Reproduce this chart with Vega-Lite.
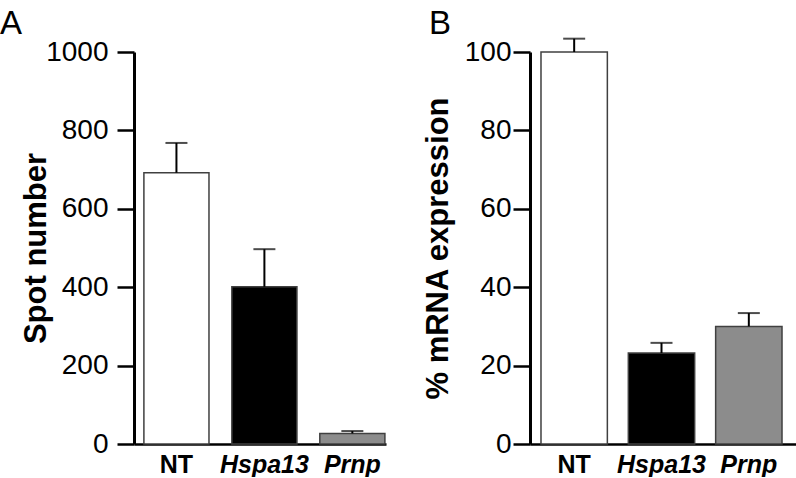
{
  "$schema": "https://vega.github.io/schema/vega-lite/v6.json",
  "background": "white",
  "padding": {"top": 7, "left": 0, "right": 0, "bottom": 0},
  "spacing": 36,
  "datasets": {
    "spots": [
      {"group": "NT", "value": 692, "upper": 768},
      {"group": "Hspa13", "value": 401, "upper": 497},
      {"group": "Prnp", "value": 27, "upper": 33}
    ],
    "mrna": [
      {"group": "NT", "value": 100, "upper": 103.4},
      {"group": "Hspa13", "value": 23.2, "upper": 25.8},
      {"group": "Prnp", "value": 30, "upper": 33.4}
    ]
  },
  "config": {
    "font": "Liberation Sans",
    "view": {"stroke": null},
    "axis": {
      "grid": false,
      "domainColor": "black",
      "tickColor": "black",
      "labelColor": "black",
      "titleColor": "black",
      "labelFont": "Liberation Sans",
      "titleFont": "Liberation Sans"
    },
    "title": {"font": "Liberation Sans", "color": "black", "fontWeight": "normal", "fontSize": 33, "anchor": "start", "frame": "group"}
  },
  "hconcat": [
    {
      "width": 252,
      "height": 392,
      "title": {"text": "A", "dx": -134, "offset": -3},
      "data": {"name": "spots"},
      "encoding": {
        "x": {
          "field": "group", "type": "nominal", "sort": ["NT", "Hspa13", "Prnp"],
          "scale": {"paddingInner": 0.26, "paddingOuter": 0.0625, "align": 0.9},
          "axis": {
            "title": null, "ticks": false, "domainWidth": 2.5, "labelAngle": 0,
            "labelFontSize": 25, "labelFontWeight": "bold", "labelPadding": 8,
            "labelFontStyle": {"expr": "datum.value == 'NT' ? 'normal' : 'italic'"}
          }
        }
      },
      "layer": [
        {
          "mark": {"type": "bar", "stroke": "#404040", "strokeWidth": 1.5},
          "encoding": {
            "y": {
              "field": "value", "type": "quantitative",
              "scale": {"domain": [0, 1000], "nice": false},
              "axis": {
                "title": "Spot number", "titleFontSize": 31, "titleFontWeight": "bold",
                "titleX": -82, "titleY": 196, "titleBaseline": "bottom",
                "values": [0, 200, 400, 600, 800, 1000], "format": "d", "tickSize": 17, "tickWidth": 2.5,
                "domainWidth": 3, "labelFontSize": 28, "labelPadding": 9
              }
            },
            "fill": {
              "field": "group", "type": "nominal", "legend": null,
              "scale": {"domain": ["NT", "Hspa13", "Prnp"], "range": ["white", "black", "#8c8c8c"]}
            }
          }
        },
        {
          "mark": {"type": "rule", "color": "black", "strokeWidth": 2},
          "encoding": {
            "y": {"field": "value", "type": "quantitative"},
            "y2": {"field": "upper"}
          }
        },
        {
          "mark": {"type": "tick", "color": "black", "size": 22, "thickness": 2},
          "encoding": {"y": {"field": "upper", "type": "quantitative"}}
        }
      ]
    },
    {
      "width": 266,
      "height": 392,
      "title": {"text": "B", "dx": -101, "offset": -3},
      "data": {"name": "mrna"},
      "encoding": {
        "x": {
          "field": "group", "type": "nominal", "sort": ["NT", "Hspa13", "Prnp"],
          "scale": {"paddingInner": 0.24, "paddingOuter": 0.143, "align": 0.44},
          "axis": {
            "title": null, "ticks": false, "domainWidth": 2.5, "labelAngle": 0,
            "labelFontSize": 25, "labelFontWeight": "bold", "labelPadding": 8,
            "labelFontStyle": {"expr": "datum.value == 'NT' ? 'normal' : 'italic'"}
          }
        }
      },
      "layer": [
        {
          "mark": {"type": "bar", "stroke": "#404040", "strokeWidth": 1.5},
          "encoding": {
            "y": {
              "field": "value", "type": "quantitative",
              "scale": {"domain": [0, 100], "nice": false},
              "axis": {
                "title": "% mRNA expression", "titleFontSize": 31, "titleFontWeight": "bold",
                "titleX": -76, "titleY": 196, "titleBaseline": "bottom",
                "values": [0, 20, 40, 60, 80, 100], "format": "d", "tickSize": 17, "tickWidth": 2.5,
                "domainWidth": 3, "labelFontSize": 28, "labelPadding": 2
              }
            },
            "fill": {
              "field": "group", "type": "nominal", "legend": null,
              "scale": {"domain": ["NT", "Hspa13", "Prnp"], "range": ["white", "black", "#8c8c8c"]}
            }
          }
        },
        {
          "mark": {"type": "rule", "color": "black", "strokeWidth": 2},
          "encoding": {
            "y": {"field": "value", "type": "quantitative"},
            "y2": {"field": "upper"}
          }
        },
        {
          "mark": {"type": "tick", "color": "black", "size": 22, "thickness": 2},
          "encoding": {"y": {"field": "upper", "type": "quantitative"}}
        }
      ]
    }
  ],
  "resolve": {"scale": {"y": "independent", "fill": "shared"}}
}
